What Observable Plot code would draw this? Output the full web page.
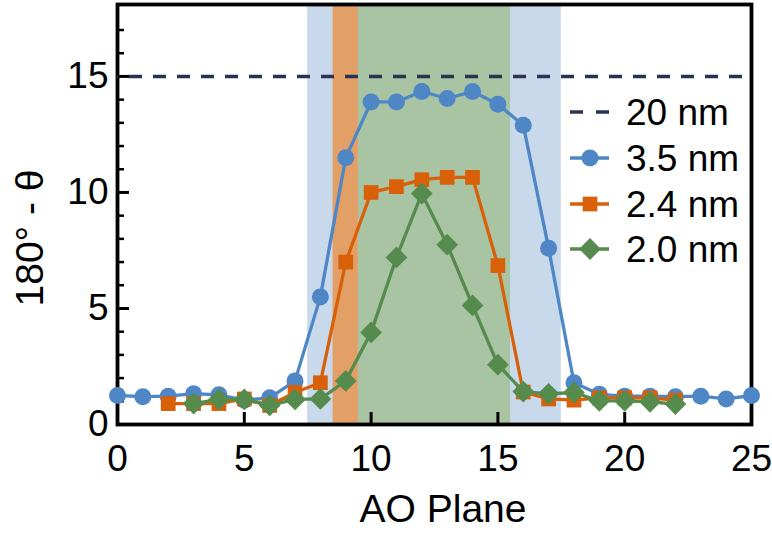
<!DOCTYPE html>
<html>
<head>
<meta charset="utf-8">
<script src="https://cdn.jsdelivr.net/npm/d3@7"></script>
<script src="https://cdn.jsdelivr.net/npm/@observablehq/plot@0.6"></script>
<style>
  html, body { margin: 0; padding: 0; background: #fff; }
  svg { display: block; }
</style>
</head>
<body>
<div id="chart"></div>
<script>
// Deviation angle (180° − θ) per AO plane for three film thicknesses
const planes35 = [0, 1, 2, 3, 4, 5, 6, 7, 8, 9, 10, 11, 12, 13, 14, 15, 16, 17, 18, 19, 20, 21, 22, 23, 24, 25];
const values35 = [1.25, 1.2, 1.22, 1.33, 1.28, 1.05, 1.15, 1.88, 5.5, 11.5, 13.9, 13.9, 14.35, 14.05, 14.35, 13.8, 12.9, 7.6, 1.8, 1.3, 1.22, 1.22, 1.2, 1.22, 1.1, 1.25];

const planes24 = [2, 3, 4, 5, 6, 7, 8, 9, 10, 11, 12, 13, 14, 15, 16, 17, 18, 19, 20, 21, 22];
const values24 = [0.9, 0.9, 0.9, 1.1, 0.82, 1.38, 1.8, 7.0, 10.0, 10.25, 10.55, 10.65, 10.65, 6.85, 1.4, 1.1, 1.05, 1.15, 1.15, 1.15, 1.05];

const planes20 = [3, 4, 5, 6, 7, 8, 9, 10, 11, 12, 13, 14, 15, 16, 17, 18, 19, 20, 21, 22];
const values20 = [0.9, 1.08, 1.08, 0.82, 1.08, 1.1, 1.88, 3.97, 7.2, 9.95, 7.75, 5.13, 2.58, 1.42, 1.32, 1.38, 1.02, 1.02, 0.98, 0.88];

// Bulk (20 nm) reference level
const bulkLevel = [15];

// Shaded plane ranges (drawn in this order)
const bandNames = ["3.5 nm", "2.4 nm", "2.0 nm"];
const bandStart = [7.5, 8.5, 9.5];
const bandEnd = [17.5, 9.5, 15.5];

// Axis ticks
const xTickLabels = [0, 5, 10, 15, 20, 25];
const xInnerTicks = [5, 10, 15, 20];
const yTickLabels = [0, 5, 10, 15];
const yMinorTicks = [1, 2, 3, 4, 6, 7, 8, 9, 11, 12, 13, 14, 16, 17];

const xTitle = "AO Plane";
const yTitle = "180° - θ";
const legendLabels = ["20 nm", "3.5 nm", "2.4 nm", "2.0 nm"];

// Styling
const colors = { "3.5 nm": "#4F86C6", "2.4 nm": "#D86008", "2.0 nm": "#558B4C" };
const bandFill = { "3.5 nm": "#C9D9EC", "2.4 nm": "#E3A066", "2.0 nm": "#A8C4A3" };
const bulkColor = "#2A3354";
const FONT = "'Liberation Sans', Arial, Helvetica, sans-serif";
const markerR = { circle: 8.5, square: 8.3, diamond: 9.8 };

const W = 772, H = 537;
const mL = 117, mR = 21, mT = 4, mB = 113;
const innerW = W - mL - mR, innerH = H - mT - mB;
const yTop = 18.1;

const toRows = (xs, ys) => xs.map((p, i) => ({ plane: p, value: ys[i] }));
const series = [
  { name: "3.5 nm", rows: toRows(planes35, values35), symbol: "circle", r: markerR.circle },
  { name: "2.4 nm", rows: toRows(planes24, values24), symbol: "square", r: markerR.square },
  { name: "2.0 nm", rows: toRows(planes20, values20), symbol: "diamond2", r: markerR.diamond }
];

const bands = bandNames.map((n, i) => ({ name: n, from: bandStart[i], to: bandEnd[i] }));

const marks = [];
// background bands
for (const b of bands) {
  marks.push(Plot.rect([b], { x1: "from", x2: "to", y1: () => 0, y2: () => yTop, fill: bandFill[b.name] }));
}
// frame and inward ticks
marks.push(Plot.frame({ stroke: "#000", strokeWidth: 3.8 }));
marks.push(Plot.tickX(xInnerTicks, { x: d => d, insetTop: innerH - 12, stroke: "#000", strokeWidth: 3 }));
marks.push(Plot.tickY(yTickLabels, { y: d => d, insetRight: innerW - 12, stroke: "#000", strokeWidth: 3 }));
marks.push(Plot.tickY(yMinorTicks, { y: d => d, insetRight: innerW - 7, stroke: "#000", strokeWidth: 2.5 }));
// tick labels
marks.push(Plot.axisX({ ticks: xTickLabels, tickSize: 0, tickPadding: 20, label: null, fontSize: 37 }));
marks.push(Plot.axisY({ ticks: yTickLabels, tickSize: 0, tickPadding: 9, label: null, fontSize: 37 }));
// bulk reference
marks.push(Plot.ruleY(bulkLevel, { y: d => d, stroke: bulkColor, strokeWidth: 3.5, strokeDasharray: "13,11", strokeDashoffset: -12 }));
// series
for (const s of series) {
  marks.push(Plot.line(s.rows, { x: "plane", y: "value", stroke: colors[s.name], strokeWidth: 3.3 }));
  marks.push(Plot.dot(s.rows, { x: "plane", y: "value", symbol: s.symbol, r: s.r, fill: colors[s.name], stroke: "none" }));
}

const chart = Plot.plot({
  width: W,
  height: H,
  marginLeft: mL,
  marginRight: mR,
  marginTop: mT,
  marginBottom: mB,
  x: { domain: [0, 25] },
  y: { domain: [0, yTop] },
  style: { fontFamily: FONT, fontSize: "37px", color: "#000", background: "#fff", overflow: "visible" },
  marks
});

document.getElementById("chart").appendChild(chart);

const svg = d3.select(chart);

// Axis titles
const titles = svg.append("g")
  .attr("font-family", FONT)
  .attr("font-size", 39)
  .attr("fill", "#000")
  .attr("text-anchor", "middle");
titles.append("text")
  .attr("transform", `translate(${mL + innerW / 2 + 9},${H - 29})`)
  .attr("dy", "0.35em")
  .text(xTitle);
titles.append("text")
  .attr("transform", `translate(29,${mT + innerH / 2 + 24}) rotate(-90)`)
  .attr("dy", "0.35em")
  .text(yTitle);

// Legend (top right, inside the frame)
const lg = svg.append("g")
  .attr("font-family", FONT)
  .attr("font-size", 37)
  .attr("text-anchor", "start");
const rowY = [112, 158, 204, 249];
const symX0 = 570, symX1 = 609, symCx = 590, textX = 626;
const legendSymbols = [null, d3.symbolCircle, d3.symbolSquare, d3.symbolDiamond2];
const legendColors = [bulkColor, colors["3.5 nm"], colors["2.4 nm"], colors["2.0 nm"]];
const legendR = [0, markerR.circle, markerR.square, markerR.diamond];
legendLabels.forEach((label, i) => {
  const y = rowY[i];
  lg.append("line")
    .attr("x1", symX0).attr("x2", symX1).attr("y1", y).attr("y2", y)
    .attr("stroke", legendColors[i])
    .attr("stroke-width", i === 0 ? 3.5 : 3.3)
    .attr("stroke-dasharray", i === 0 ? "13,13" : null);
  if (legendSymbols[i]) {
    lg.append("path")
      .attr("d", d3.symbol(legendSymbols[i], Math.PI * legendR[i] * legendR[i])())
      .attr("transform", `translate(${symCx},${y})`)
      .attr("fill", legendColors[i]);
  }
  lg.append("text")
    .attr("x", textX).attr("y", y).attr("dy", "0.35em")
    .attr("fill", "#000")
    .attr("text-anchor", "start")
    .text(label);
});
</script>
</body>
</html>
